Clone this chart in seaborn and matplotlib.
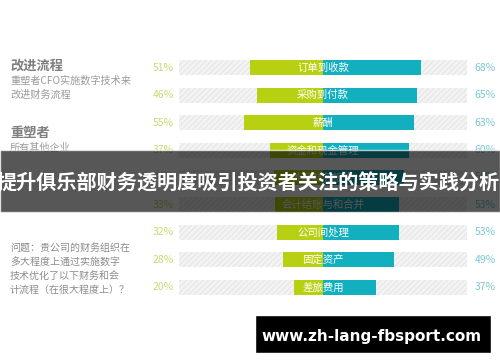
import pandas as pd
import matplotlib
matplotlib.use("Agg")
import matplotlib.pyplot as plt
import seaborn as sns

# ==========================================
# DATOS
# ==========================================
procesos = ["订单到收款", "采购到付款", "薪酬", "资金和现金管理", "外部财务报告",
            "会计结账与和合并", "公司间处理", "固定资产", "差旅费用"]
otros = [51, 46, 55, 37, 34, 33, 32, 28, 20]       # 所有其他企业 (izquierda)
reshapers = [68, 65, 63, 60, 56, 53, 53, 49, 37]   # 重塑者 (derecha)

titulo = "提升俱乐部财务透明度吸引投资者关注的策略与实践分析"
url = "www.zh-lang-fbsport.com"

VERDE = "#b8d012"
TEAL = "#12afbf"

sns.set_theme(style="white")
plt.rcParams['font.family'] = ['Noto Sans CJK SC', 'DejaVu Sans']
plt.rcParams['hatch.linewidth'] = 0.6

df = pd.DataFrame({"proceso": procesos, "otros": [-v for v in otros], "reshapers": reshapers})

W, H = 500, 362
fig = plt.figure(figsize=(W / 100, H / 100), dpi=100)
fig.patch.set_facecolor("white")

# ejes de barras: x de 179 a 467 px, filas de 67 a 287 px
ax = fig.add_axes([179 / W, 1 - 301 / H, 288 / W, 247 / H])

# pistas de fondo rayadas
sns.barplot(x=[100] * len(procesos), y=procesos, ax=ax, orient="h", color="#f3f3f3",
            width=0.55, linewidth=0, hatch="//////", saturation=1)
sns.barplot(x=[-100] * len(procesos), y=procesos, ax=ax, orient="h", color="#f3f3f3",
            width=0.55, linewidth=0, hatch="//////", saturation=1)
for p in ax.patches:
    p.set_edgecolor("#e2e2e2")
    p.set_linewidth(0)

sns.barplot(data=df, x="otros", y="proceso", ax=ax, orient="h", color=VERDE,
            width=0.55, saturation=1, linewidth=0)
sns.barplot(data=df, x="reshapers", y="proceso", ax=ax, orient="h", color=TEAL,
            width=0.55, saturation=1, linewidth=0)
ax.set_ylim(len(procesos) - 0.5, -0.5)
ax.set_xlim(-100, 100)
ax.axis("off")

for i, nombre in enumerate(procesos):
    ax.text(0, i, nombre, ha="center", va="center", color="white", fontsize=7.5)
    ax.text(-111, i, f"{otros[i]}%", ha="center", va="center", color="#c9da72",
            fontsize=7.5, clip_on=False)
    ax.text(112.5, i, f"{reshapers[i]}%", ha="center", va="center", color="#7dc8d2",
            fontsize=7.5, clip_on=False)

# texto de la columna izquierda
def ft(x, y, s, **kw):
    fig.text(x / W, 1 - y / H, s, va="center", ha="left", **kw)

ft(10, 66, "改进流程", fontsize=9.5, color="#7f7f7f", fontweight="bold")
ft(10, 81, "重塑者CFO实施数字技术来", fontsize=7.3, color="#9a9a9a")
ft(10, 95, "改进财务流程", fontsize=7.3, color="#9a9a9a")
ft(10, 133, "重塑者", fontsize=9.5, color="#7f7f7f", fontweight="bold")
ft(10, 148, "所有其他企业", fontsize=7.3, color="#9a9a9a")
pregunta = ["问题：贵公司的财务组织在", "多大程度上通过实施数字",
            "技术优化了以下财务和会", "计流程（在很大程度上）？"]
for k, linea in enumerate(pregunta):
    ft(10, 248 + k * 14, linea, fontsize=7.2, color="#8c8c8c")

# banda del titulo
fig.patches.append(plt.Rectangle((0, 1 - 212 / H), 1, 62 / H, transform=fig.transFigure,
                                 facecolor="black", alpha=0.66, zorder=5))
fig.text(248 / W, 1 - 183 / H, titulo, ha="center", va="center", color="white",
         fontsize=14.5, fontweight="bold", zorder=6)

# caja de la url
fig.patches.append(plt.Rectangle((255 / W, 1 - 353 / H), 236 / W, 38 / H,
                                 transform=fig.transFigure, facecolor="black", zorder=5))
fig.text(372 / W, 1 - 336 / H, url, ha="center", va="center", color="white",
         fontsize=11, fontweight="bold", family="DejaVu Sans", zorder=6)

plt.savefig("out.png", dpi=100)
plt.close()
